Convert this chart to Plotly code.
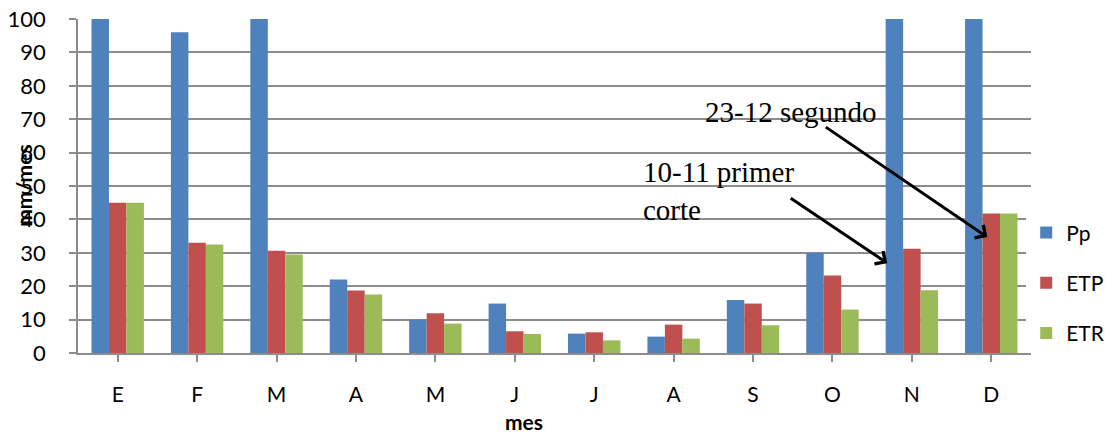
import plotly.graph_objects as go

# Monthly water balance (mm/mes)
meses = ["E", "F", "M", "A", "M", "J", "J", "A", "S", "O", "N", "D"]
pp = [130, 96, 125, 22, 10, 14.8, 5.8, 4.9, 15.9, 30, 140, 150]
etp = [45, 33, 30.6, 18.7, 11.9, 6.5, 6.2, 8.5, 14.8, 23.2, 31.2, 41.8]
etr = [45, 32.5, 29.5, 17.5, 8.8, 5.7, 3.8, 4.3, 8.3, 13, 18.8, 41.8]

series = [("Pp", pp, "#4F81BD"), ("ETP", etp, "#C0504D"), ("ETR", etr, "#9BBB59")]

font_main = "Lato, 'Liberation Sans', sans-serif"
font_serif = "'Liberation Serif', 'Times New Roman', serif"
grid = "#8C8C8C"

x_idx = list(range(len(meses)))

fig = go.Figure()
for i, (name, vals, color) in enumerate(series):
    fig.add_trace(go.Bar(
        x=x_idx, y=vals, name=name, marker_color=color,
        marker_line_width=0, legendgroup=name,
    ))

fig.update_layout(
    width=1112, height=436,
    margin=dict(l=78, r=81, t=19, b=83, autoexpand=False),
    paper_bgcolor="white", plot_bgcolor="white",
    barmode="group", bargap=0.34, bargroupgap=0,
    font=dict(family=font_main, size=22, color="black"),
    showlegend=True,
    legend=dict(
        x=0.995, y=0.21, xanchor="left", yanchor="middle",
        font=dict(size=21), tracegroupgap=20, traceorder="grouped",
        itemwidth=30,
    ),
)

fig.update_xaxes(
    tickmode="array", tickvals=x_idx, ticktext=meses,
    range=[-0.5, len(meses) - 0.5],
    showline=True, linecolor=grid, linewidth=1.5,
    ticks="outside", ticklen=7, tickcolor=grid, tickwidth=1.5,
    tickson="boundaries", showgrid=False,
    tickfont=dict(size=21), ticklabelstandoff=15,
)
fig.update_yaxes(
    range=[0, 100], dtick=10, tick0=0,
    showline=True, linecolor=grid, linewidth=1.5,
    ticks="outside", ticklen=7, tickcolor=grid, tickwidth=1.5,
    showgrid=True, gridcolor=grid, gridwidth=1.5,
    zeroline=False, tickfont=dict(size=22), ticklabelstandoff=19,
)

# Axis titles
fig.add_annotation(
    text="<b>mes</b>", xref="paper", yref="paper", x=0.468, y=-0.205,
    xanchor="center", yanchor="middle", showarrow=False, font=dict(size=21),
)
fig.add_annotation(
    text="<b>mm/mes</b>", xref="paper", yref="paper", x=-0.058, y=0.5,
    xanchor="center", yanchor="middle", showarrow=False, textangle=-90,
    font=dict(size=21),
)

# Notes on the cutting dates
fig.add_annotation(
    text="23-12 segundo", xref="x", yref="y", x=7.37, y=72.2,
    xanchor="left", yanchor="middle", showarrow=False,
    font=dict(family=font_serif, size=29),
)
fig.add_annotation(
    text="10-11 primer<br>corte", xref="x", yref="y", x=6.59, y=48.6,
    xanchor="left", yanchor="middle", align="left", showarrow=False,
    font=dict(family=font_serif, size=29),
)
fig.add_annotation(
    text="", xref="x", yref="y", x=9.69, y=26.9, ax=-98, ay=-66,
    showarrow=True, arrowhead=4, arrowsize=1, arrowwidth=3, arrowcolor="black",
)
fig.add_annotation(
    text="", xref="x", yref="y", x=10.95, y=34.7, ax=-163, ay=-111,
    showarrow=True, arrowhead=4, arrowsize=1, arrowwidth=3, arrowcolor="black",
)

fig.write_html("out.html")
